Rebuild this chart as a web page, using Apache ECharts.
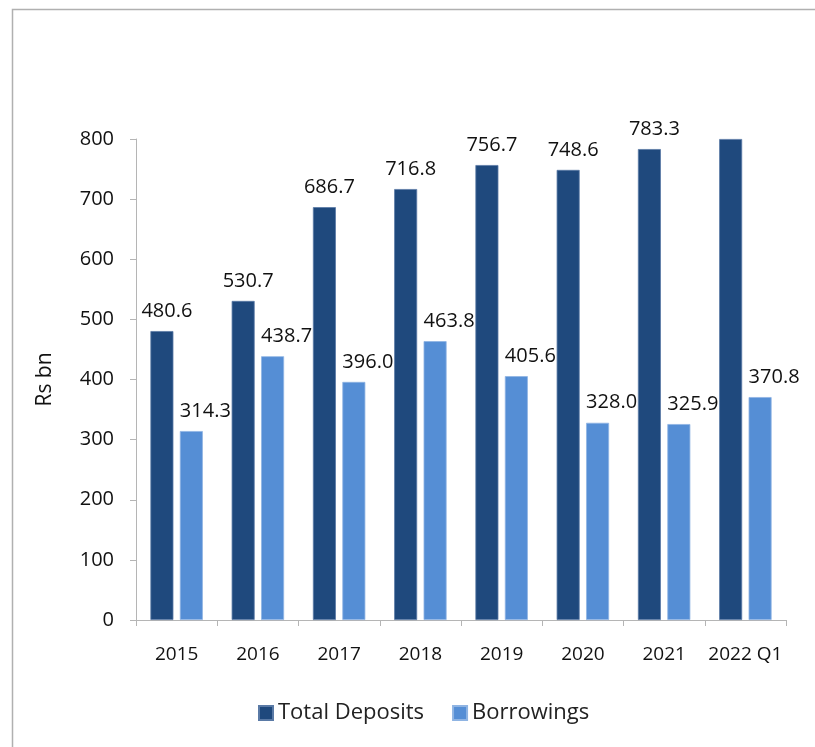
<!DOCTYPE html>
<html><head><meta charset="utf-8">
<script src="https://cdn.jsdelivr.net/npm/echarts@6/dist/echarts.min.js"></script>
<style>html,body{margin:0;padding:0;background:#fff}#c{width:815px;height:747px}</style>
</head><body><div id="c"></div>
<script>
const categories = ['2015','2016','2017','2018','2019','2020','2021','2022 Q1'];
const totalDeposits = [480.6, 530.7, 686.7, 716.8, 756.7, 748.6, 783.3, 800];
const borrowings = [314.3, 438.7, 396.0, 463.8, 405.6, 328.0, 325.9, 370.8];
const yTicks = {min: 0, max: 800, interval: 100};

const font = '"Open Sans", sans-serif';
const chart = echarts.init(document.getElementById('c'), null, {renderer: 'canvas'});
chart.setOption({
  animation: false,
  backgroundColor: '#fff',
  graphic: [{type: 'rect', shape: {x: 12.5, y: 9.5, width: 820, height: 760}, style: {fill: 'none', stroke: '#b0b0b0', lineWidth: 1.5}, silent: true}],
  grid: {left: 136, right: 29, top: 139, bottom: 127},
  legend: {
    bottom: 18, left: 253, itemWidth: 14, itemHeight: 14, itemGap: 28,
    icon: 'rect',
    textStyle: {fontFamily: font, fontSize: 22, color: '#222'},
    data: ['Total Deposits', 'Borrowings']
  },
  xAxis: {
    type: 'category', data: categories,
    axisLine: {lineStyle: {color: '#b5b5b5', width: 1}},
    axisTick: {show: true, length: 6, lineStyle: {color: '#b5b5b5'}},
    axisLabel: {interval: 0, fontFamily: font, fontSize: 19, color: '#111', margin: 25}
  },
  yAxis: {
    type: 'value', min: yTicks.min, max: yTicks.max, interval: yTicks.interval,
    name: 'Rs bn', nameLocation: 'middle', nameGap: 80, nameRotate: 90,
    nameTextStyle: {fontFamily: font, fontSize: 21, color: '#111'},
    axisLine: {show: true, lineStyle: {color: '#b5b5b5'}},
    axisTick: {show: true, length: 6, lineStyle: {color: '#b5b5b5'}},
    splitLine: {show: false},
    axisLabel: {fontFamily: font, fontSize: 20, color: '#111', margin: 22}
  },
  series: [
    {
      name: 'Total Deposits', type: 'bar', data: totalDeposits.map((v, i) => i === totalDeposits.length - 1 ? {value: v, label: {show: false}} : v),
      barWidth: 23, barGap: '28%',
      itemStyle: {color: '#1f497d', borderColor: '#5a7aa6', borderWidth: 0.8},
      label: {show: true, position: 'top', distance: 10, offset: [5, 0], fontFamily: font, fontSize: 20, color: '#111', formatter: p => p.value.toFixed(1)}
    },
    {
      name: 'Borrowings', type: 'bar', data: borrowings,
      barWidth: 23,
      itemStyle: {color: '#558ed5', borderColor: '#8fb4e3', borderWidth: 0.8},
      label: {show: true, position: 'top', distance: 10, offset: [14, 0], fontFamily: font, fontSize: 20, color: '#111', formatter: p => p.value.toFixed(1)}
    }
  ]
});
</script></body></html>
